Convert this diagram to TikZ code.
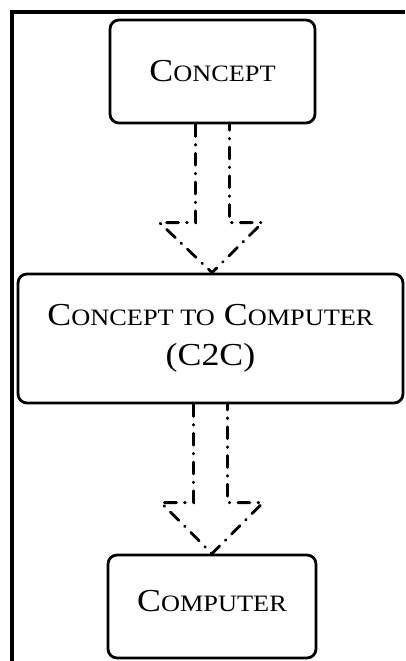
\documentclass[tikz,border=0pt]{standalone}
\usepackage{fontspec}
\setmainfont{Liberation Serif}[FakeStretch=1.12]
\usetikzlibrary{calc}

% big first letter, smaller capitals after it
\newcommand{\fakesc}[2]{{\fontsize{32}{40}\selectfont #1}{\fontsize{23.5}{40}\selectfont #2}}

\tikzset{
  stagebox/.style={draw, line width=2.8pt, rounded corners=9pt, align=center,
    font=\fontsize{32}{40}\selectfont},
  flowarrow/.style={line width=2.8pt, line cap=round,
    dash pattern=on 12pt off 8pt on 0.8pt off 8pt},
  frameline/.style={line width=3.8pt}
}

\begin{document}
\begin{tikzpicture}[x=1pt,y=-1pt]
    \useasboundingbox (0,0) rectangle (405,661);

    % frame
    \draw[frameline] (405,12) -- (12,12) -- (12,661);

    % draw boxes
    \node[stagebox, minimum width=205pt, minimum height=103pt] (concept) at (212.5,71.5) {\fakesc{C}{ONCEPT}};
    \node[stagebox, minimum width=385pt, minimum height=129pt] (c2c) at (210.5,338.5)
        {\fakesc{C}{ONCEPT TO} \fakesc{C}{OMPUTER}\\(C2C)};
    \node[stagebox, minimum width=208pt, minimum height=103pt, text depth=12pt] (computer) at (212,606.5) {\fakesc{C}{OMPUTER}};

    % draw hollow arrows
    \draw[flowarrow] ([xshift=-17pt]concept.south) |- ([xshift=-51pt,yshift=50pt]c2c.north)
        -- ([xshift=1.5pt]c2c.north) -- ([xshift=52pt,yshift=50pt]c2c.north) -| ([xshift=17pt]concept.south);
    \draw[flowarrow] ([xshift=-17pt]c2c.south) |- ([xshift=-51pt,yshift=51pt]computer.north)
        -- (computer.north) -- ([xshift=51pt,yshift=51pt]computer.north) -| ([xshift=17pt]c2c.south);
\end{tikzpicture}
\end{document}
